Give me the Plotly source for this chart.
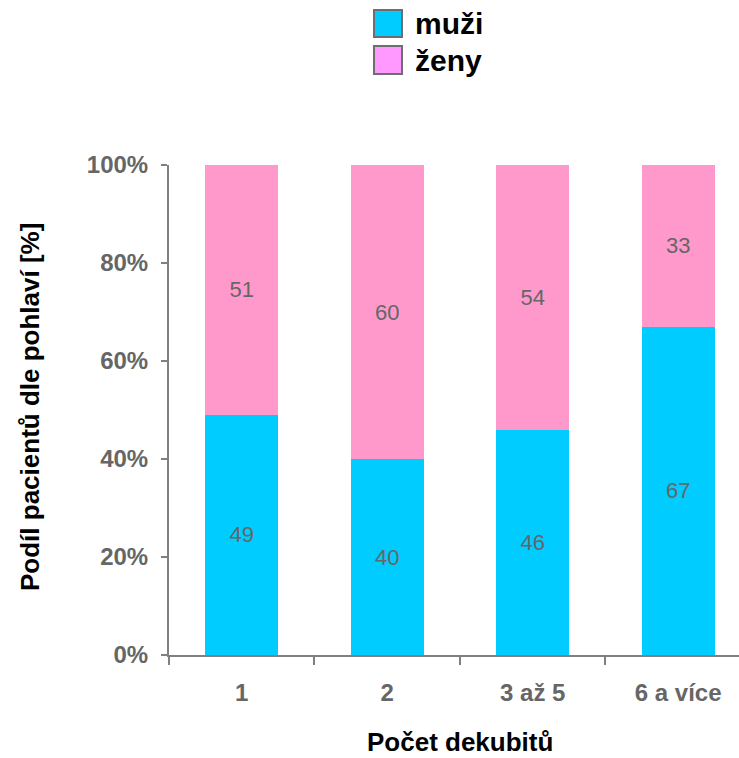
import plotly.graph_objects as go

categories = ["1", "2", "3 až 5", "6 a více"]
muzi = [49, 40, 46, 67]
zeny = [51, 60, 54, 33]
y_ticks = [0, 20, 40, 60, 80, 100]
y_tick_labels = ["0%", "20%", "40%", "60%", "80%", "100%"]

BLUE = "#00CCFF"
PINK = "#FF99CC"
LEG_PINK = "#FF99FF"
GRAY = "#666666"
FONT = "Liberation Sans, Arial, sans-serif"

fig = go.Figure()
fig.add_trace(go.Bar(x=categories, y=muzi, name="muži", marker=dict(color=BLUE, line=dict(width=0)),
                     text=[str(v) for v in muzi], textposition="inside", insidetextanchor="middle",
                     textfont=dict(color=GRAY, size=22, family=FONT), showlegend=False, width=0.5))
fig.add_trace(go.Bar(x=categories, y=zeny, name="ženy", marker=dict(color=PINK, line=dict(width=0)),
                     text=[str(v) for v in zeny], textposition="inside", insidetextanchor="middle",
                     textfont=dict(color=GRAY, size=22, family=FONT), showlegend=False, width=0.5))

W, H = 739, 758
L, R, T, B = 169, 0, 165, 103

fig.update_layout(
    barmode="stack",
    width=W, height=H,
    margin=dict(l=L, r=R, t=T, b=B, pad=0),
    paper_bgcolor="white", plot_bgcolor="white",
    font=dict(family=FONT),
    uniformtext=dict(minsize=22, mode="show"),
    xaxis=dict(type="category", range=[-0.5, 3.418], showline=True, linecolor="#808080", linewidth=2,
               ticks="outside", tickson="boundaries", ticklen=8, tickwidth=2, tickcolor="#808080",
               tickfont=dict(size=24, color=GRAY, family=FONT, weight="bold"), ticklabelstandoff=15,
               showgrid=False, zeroline=False, fixedrange=True),
    yaxis=dict(range=[0, 100], tickvals=y_ticks, ticktext=y_tick_labels, showline=True, linecolor="#808080",
               linewidth=2, ticks="outside", ticklen=6, tickwidth=2, tickcolor="#808080",
               tickfont=dict(size=24, color=GRAY, family=FONT, weight="bold"), ticklabelstandoff=8,
               showgrid=False, zeroline=False),
)

# Legend drawn manually (large square swatches)
def px_x(px):
    return (px - L) / (W - L - R)

def px_y(py):
    return (H - B - py) / (H - T - B)

legend_items = [("muži", BLUE, 10, 37), ("ženy", LEG_PINK, 46, 74)]
for label, col, y0, y1 in legend_items:
    fig.add_shape(type="rect", xref="paper", yref="paper", x0=px_x(374), x1=px_x(402), y0=px_y(y1), y1=px_y(y0),
                  fillcolor=col, line=dict(color="#6e6e6e", width=2))
    fig.add_annotation(xref="paper", yref="paper", x=px_x(413), y=px_y((y0 + y1) / 2), text=f"<b>{label}</b>",
                       showarrow=False, xanchor="left", yanchor="middle",
                       font=dict(size=30, color="black", family=FONT))

fig.add_annotation(xref="paper", yref="paper", x=px_x(460), y=px_y(742), text="<b>Počet dekubitů</b>",
                   showarrow=False, xanchor="center", yanchor="middle",
                   font=dict(size=26, color="black", family=FONT))
fig.add_annotation(xref="paper", yref="paper", x=px_x(30), y=px_y(407), text="<b>Podíl pacientů dle pohlaví [%]</b>",
                   showarrow=False, xanchor="center", yanchor="middle", textangle=-90,
                   font=dict(size=26, color="black", family=FONT))

fig.write_html("out.html", config={"displayModeBar": False},
               post_script="document.body.style.margin='0';document.body.style.padding='0';")
